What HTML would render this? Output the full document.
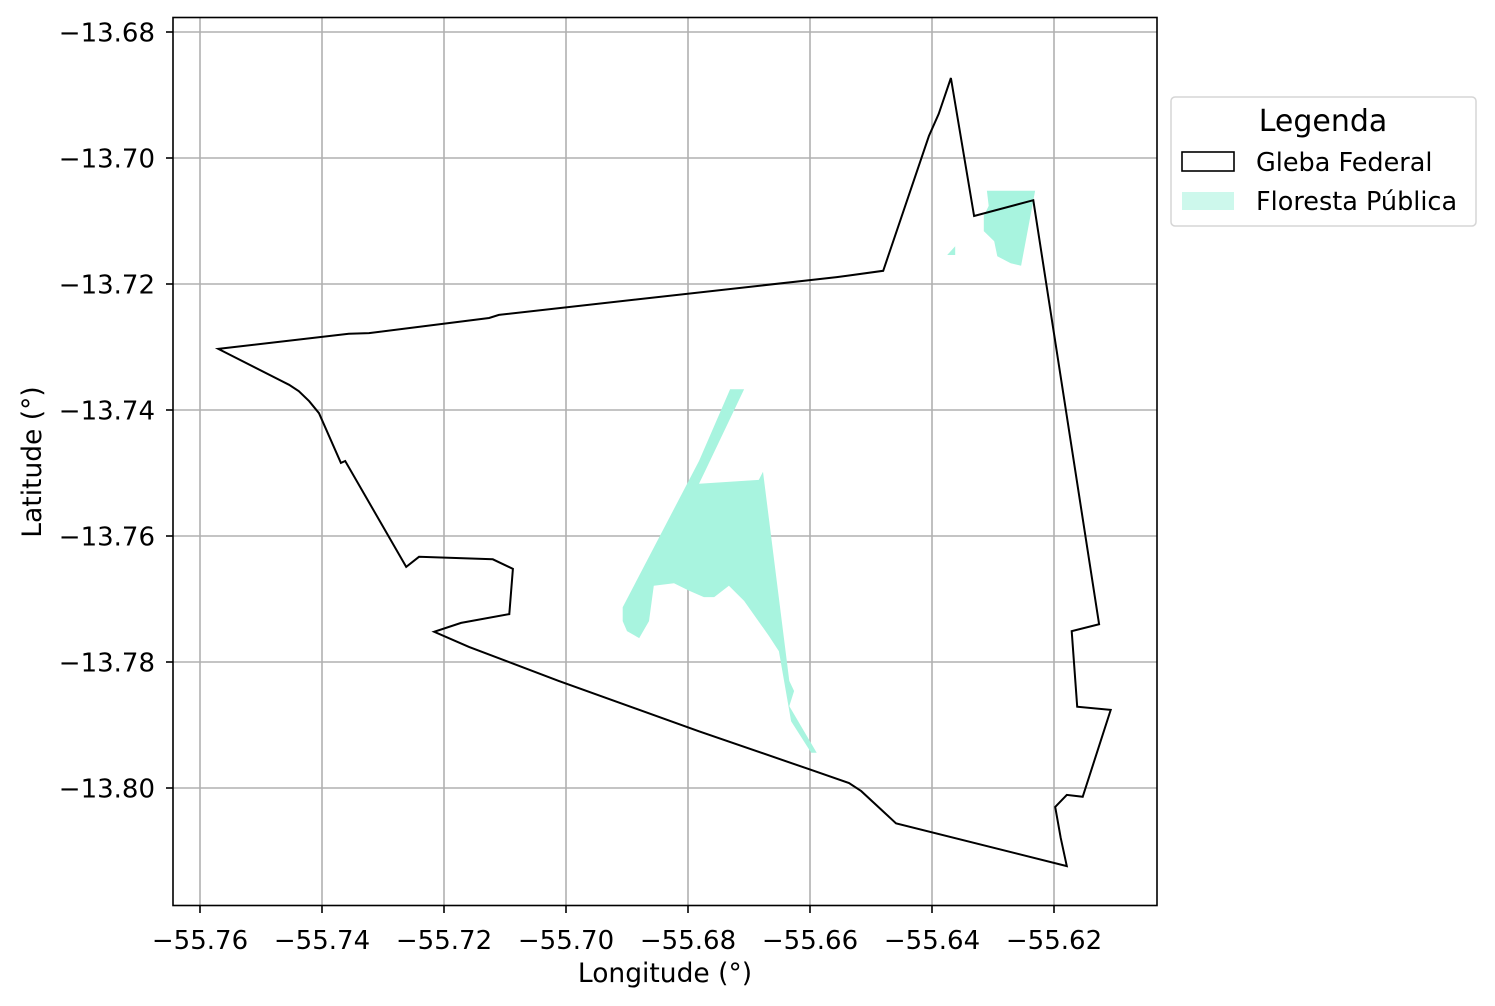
<!DOCTYPE html>
<html><head><meta charset="utf-8"><style>
body{margin:0;background:#fff;}
svg{display:block;font-family:"DejaVu Sans","Liberation Sans",sans-serif;}
</style></head><body>
<svg id="chart" width="1495" height="1006" viewBox="0 0 1495 1006" xmlns="http://www.w3.org/2000/svg">
<g id="grid"></g>
<g id="marks"></g>
<rect x="173" y="17.5" width="984" height="888" fill="none" stroke="#000" stroke-width="1.6"/>
<g id="axes"></g>
<text x="665" y="982" font-size="26.5" text-anchor="middle">Longitude (°)</text>
<text transform="translate(41,462) rotate(-90)" font-size="26.5" text-anchor="middle">Latitude (°)</text>
<g>
<rect x="1171" y="97" width="305" height="129" rx="4" fill="#fff" stroke="#d5d5d5" stroke-width="1.5"/>
<text x="1323" y="131" font-size="30" text-anchor="middle">Legenda</text>
<rect x="1182" y="152" width="52" height="19" fill="none" stroke="#000" stroke-width="1.6"/>
<text x="1256" y="171" font-size="25.5">Gleba Federal</text>
<rect x="1182" y="192" width="52" height="18" fill="#cdf8ec"/>
<text x="1256" y="210" font-size="25.5">Floresta Pública</text>
</g>
</svg>
<script>
const xTicks=[-55.76,-55.74,-55.72,-55.70,-55.68,-55.66,-55.64,-55.62];
const yTicks=[-13.68,-13.70,-13.72,-13.74,-13.76,-13.78,-13.80];
const glebaLon=[-55.7570,-55.7454,-55.7438,-55.7421,-55.7405,-55.7369,-55.7362,-55.7262,-55.7241,-55.7120,-55.7087,-55.7093,-55.7172,-55.7216,-55.7159,-55.7012,-55.6782,-55.6602,-55.6536,-55.6516,-55.6459,-55.6179,-55.6189,-55.6198,-55.6179,-55.6153,-55.6107,-55.6162,-55.6171,-55.6126,-55.6234,-55.6331,-55.6369,-55.6389,-55.6405,-55.6480,-55.6539,-55.6556,-55.6602,-55.7110,-55.7126,-55.7323,-55.7356];
const glebaLat=[-13.7303,-13.7360,-13.7370,-13.7386,-13.7405,-13.7484,-13.7481,-13.7649,-13.7633,-13.7637,-13.7652,-13.7724,-13.7738,-13.7752,-13.7776,-13.7830,-13.7910,-13.7970,-13.7992,-13.8005,-13.8056,-13.8124,-13.8079,-13.8030,-13.8011,-13.8014,-13.7876,-13.7871,-13.7751,-13.7740,-13.7067,-13.7092,-13.6873,-13.6930,-13.6965,-13.7179,-13.7187,-13.7189,-13.7194,-13.7249,-13.7254,-13.7278,-13.7279];
const forestALon=[-55.6907,-55.6782,-55.6731,-55.6708,-55.6772,-55.6782,-55.6684,-55.6677,-55.6634,-55.6626,-55.6634,-55.6589,-55.6598,-55.6631,-55.6651,-55.6667,-55.6708,-55.6733,-55.6757,-55.6774,-55.6798,-55.6823,-55.6856,-55.6864,-55.6880,-55.6900,-55.6907];
const forestALat=[-13.7713,-13.7481,-13.7367,-13.7367,-13.7497,-13.7517,-13.7511,-13.7498,-13.7830,-13.7846,-13.7870,-13.7944,-13.7944,-13.7894,-13.7783,-13.7759,-13.7703,-13.7679,-13.7697,-13.7697,-13.7687,-13.7675,-13.7679,-13.7735,-13.7762,-13.7751,-13.7735];
const forestBLon=[-55.6310,-55.6231,-55.6234,-55.6254,-55.6271,-55.6293,-55.6298,-55.6315,-55.6315,-55.6307];
const forestBLat=[-13.7052,-13.7052,-13.7068,-13.7171,-13.7167,-13.7156,-13.7132,-13.7116,-13.7092,-13.7076];
const forestCLon=[-55.6200,-55.6192,-55.6200];
const forestCLat=[-13.6870,-13.6846,-13.6870];
const forestDLon=[-55.6375,-55.6362,-55.6362];
const forestDLat=[-13.7154,-13.7140,-13.7154];

const NS='http://www.w3.org/2000/svg';
const X=v=>200+(v+55.76)*6100;
const Y=v=>32+(-13.68-v)*6300;
function mk(tag,attrs,parent){const e=document.createElementNS(NS,tag);for(const k in attrs)e.setAttribute(k,attrs[k]);parent.appendChild(e);return e;}
const grid=document.getElementById('grid'),axes=document.getElementById('axes'),marks=document.getElementById('marks');
xTicks.forEach(t=>{const x=X(t);
 const g=mk('line',{x1:x,x2:x,y1:17.5,y2:905.5,stroke:'#b0b0b0','stroke-width':1.6},grid);
 
 
 const tk=mk('line',{x1:x,x2:x,y1:905.5,y2:913,stroke:'#000','stroke-width':1.6},axes);
 
 
 const tx=mk('text',{x:x,y:949,'font-size':26,'text-anchor':'middle'},axes);
 tx.textContent='\u2212'+Math.abs(t).toFixed(2);
 
 
});
yTicks.forEach(t=>{const y=Y(t);
 const g=mk('line',{x1:173,x2:1157,y1:y,y2:y,stroke:'#b0b0b0','stroke-width':1.6},grid);
 
 
 const tk=mk('line',{x1:166,x2:173,y1:y,y2:y,stroke:'#000','stroke-width':1.6},axes);
 
 
 const tx=mk('text',{x:155,y:y+9.5,'font-size':26,'text-anchor':'end'},axes);
 tx.textContent='\u2212'+Math.abs(t).toFixed(2);
 
 
});
function pts(lo,la){return lo.map((v,i)=>X(v).toFixed(1)+','+Y(la[i]).toFixed(1)).join(' ');}
[[forestALon,forestALat],[forestBLon,forestBLat],[forestCLon,forestCLat],[forestDLon,forestDLat]].forEach(([lo,la])=>{
 const p=mk('polygon',{points:pts(lo,la),fill:'#a8f4df',stroke:'none'},marks);
 
 
});
const gp=mk('polygon',{points:pts(glebaLon,glebaLat),fill:'none',stroke:'#000','stroke-width':2,'stroke-linejoin':'miter'},marks);


</script>
</body></html>
